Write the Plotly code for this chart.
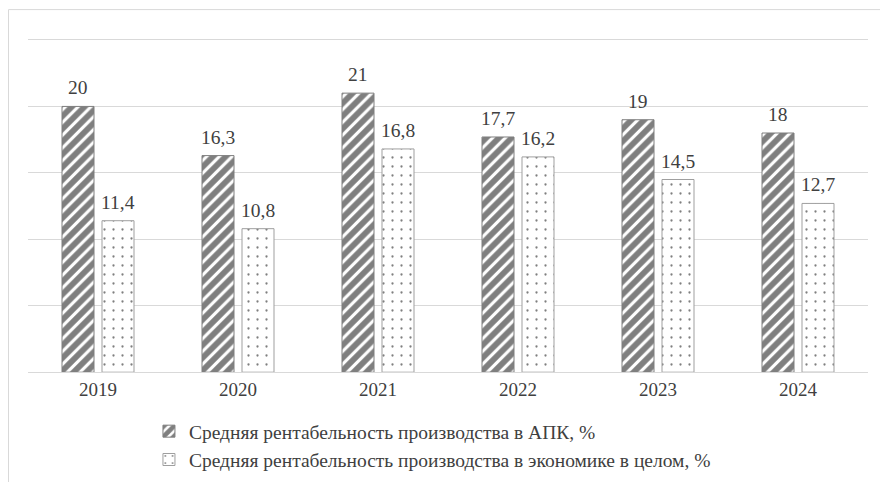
import plotly.graph_objects as go

years = ["2019", "2020", "2021", "2022", "2023", "2024"]
apk = [20, 16.3, 21, 17.7, 19, 18]
economy = [11.4, 10.8, 16.8, 16.2, 14.5, 12.7]
name_apk = "Средняя рентабельность производства в АПК, %"
name_eco = "Средняя рентабельность производства в экономике в целом, %"


def fmt(v):
    s = ("%g" % v)
    return s.replace(".", ",")


FONT = "Liberation Serif, DejaVu Serif, serif"
TXT = "#404040"

fig = go.Figure()
fig.add_trace(go.Bar(
    x=years, y=apk, name=name_apk,
    marker=dict(color="white", line=dict(color="#7f7f7f", width=1),
                pattern=dict(shape="/", fgcolor="black", bgcolor="white",
                             size=9, solidity=0.65, fillmode="overlay")),
))
fig.add_trace(go.Bar(
    x=years, y=economy, name=name_eco,
    marker=dict(color="white", line=dict(color="#9f9f9f", width=1),
                pattern=dict(shape=".", fgcolor="black", bgcolor="white",
                             size=9, solidity=0.05, fillmode="overlay")),
))

# value labels above bars (category index, offset to each bar of the group)
for series, shift in ((apk, -20), (economy, 20)):
    for i, v in enumerate(series):
        fig.add_annotation(x=i, y=v, xref="x", yref="y", text=fmt(v),
                           showarrow=False, xshift=shift, yshift=6,
                           yanchor="bottom",
                           font=dict(family=FONT, size=19.5, color=TXT))

fig.update_layout(
    width=880, height=474,
    margin=dict(l=20, r=20, t=28, b=102),
    paper_bgcolor="white", plot_bgcolor="white",
    barmode="group", bargap=0.4286, bargroupgap=0.2,
    font=dict(family=FONT, size=19, color=TXT),
    showlegend=True,
    legend=dict(orientation="v", xref="paper", yref="container",
                x=0.144, xanchor="left", y=0.1477, yanchor="top",
                font=dict(family=FONT, size=19.5, color=TXT),
                itemwidth=30, tracegroupgap=0, bgcolor="rgba(0,0,0,0)"),
    xaxis=dict(type="category", range=[-0.5, len(years) - 0.5], autorange=False,
               showgrid=False, showline=True, linecolor="#d9d9d9",
               linewidth=1, ticks="", tickfont=dict(family=FONT, size=19, color=TXT)),
    yaxis=dict(range=[0, 25.3], autorange=False, dtick=5, showgrid=True,
               gridcolor="#d9d9d9", gridwidth=1, showticklabels=False,
               zeroline=False, showline=False),
    shapes=[dict(type="rect", xref="paper", yref="paper",
                 x0=-0.0232, x1=1.2, y0=-0.5, y1=1.0785,
                 line=dict(color="#d9d9d9", width=1), fillcolor="rgba(0,0,0,0)",
                 layer="below")],
)

fig.write_html("out.html")
